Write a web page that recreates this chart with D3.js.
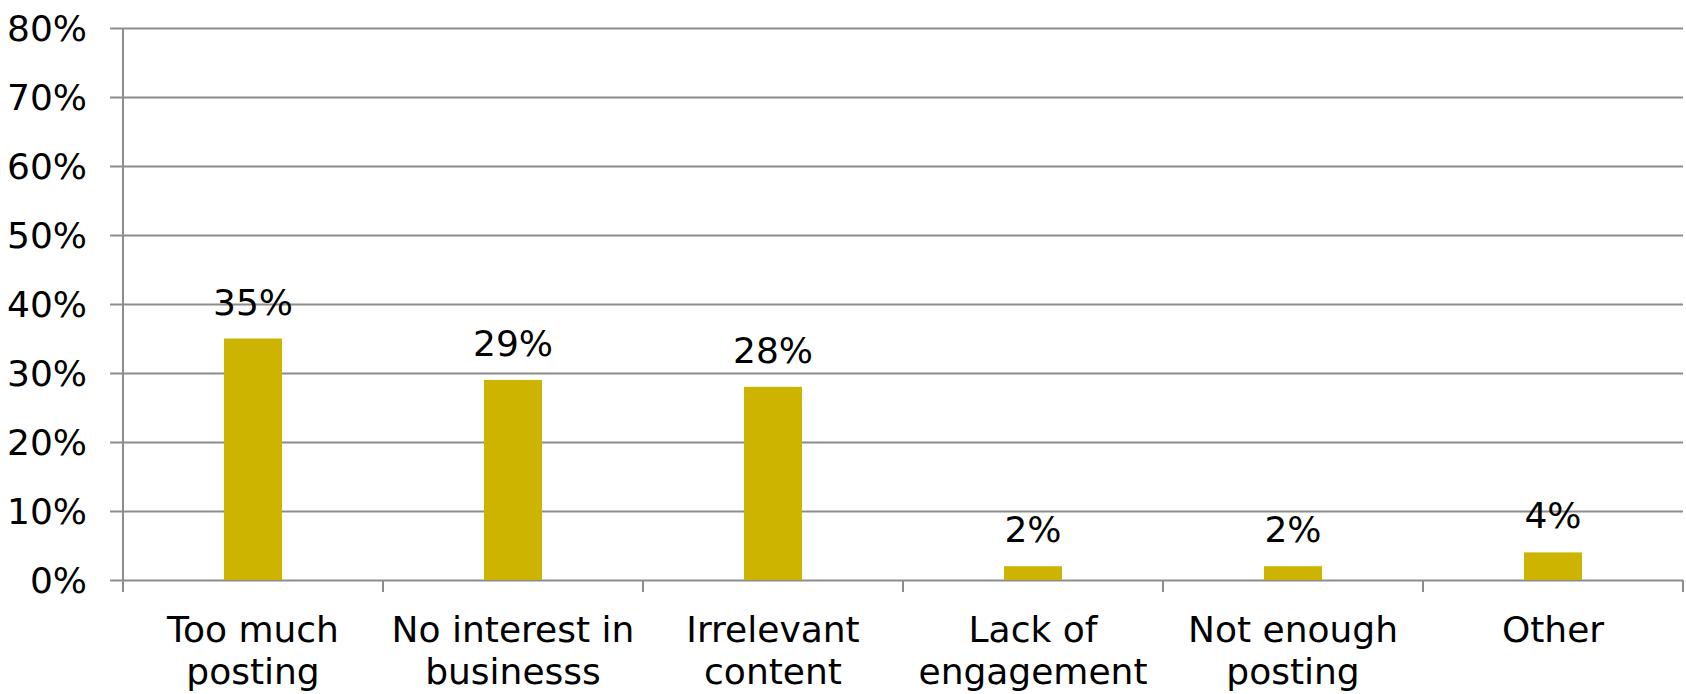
<!DOCTYPE html>
<html>
<head>
<meta charset="utf-8">
<script src="https://cdn.jsdelivr.net/npm/d3@7"></script>
<style>
  html, body { margin: 0; padding: 0; background: #fff; }
  svg text { font-family: "Century Gothic", "URW Gothic", "DejaVu Sans", sans-serif; fill: #000; }
</style>
</head>
<body>
<div id="chart"></div>
<script>
var categories = [
    ["Too much", "posting"],
    ["No interest in", "businesss"],
    ["Irrelevant", "content"],
    ["Lack of", "engagement"],
    ["Not enough", "posting"],
    ["Other"]
];
var values = [0.35, 0.29, 0.28, 0.02, 0.02, 0.04];
var yTicks = [0, 0.1, 0.2, 0.3, 0.4, 0.5, 0.6, 0.7, 0.8];

var width = 1686,
    height = 694,
    margin = { top: 28, right: 3, bottom: 114, left: 123 },
    gridColor = '#8c8c8c',
    barColor = '#ccb400',
    fontSize = 36
;

var svg = d3.select('#chart')
    .append('svg')
    .attr('width', width)
    .attr('height', height)
;

var keys = categories.map(function(d, i) { return i; });

var x = d3.scaleBand()
    .domain(keys)
    .range([margin.left, width - margin.right])
    .padding(0)
;

var y = d3.scaleLinear()
    .domain([0, 0.8])
    .range([height - margin.bottom, margin.top])
;

var barWidth = x.bandwidth() * 0.223;

// gridlines + y labels
var yAxis = d3.axisLeft(y)
    .tickValues(yTicks)
    .tickFormat(d3.format('.0%'))
    .tickSize(-(width - margin.right - margin.left))
    .tickPadding(36)
;

var gy = svg.append('g')
    .attr('transform', 'translate(' + margin.left + ',0)')
    .call(yAxis)
;
gy.select('.domain').remove();
gy.selectAll('.tick line')
    .attr('x1', -13)
    .attr('stroke', gridColor)
    .attr('stroke-width', 2)
;
gy.selectAll('.tick text')
    .style('font-size', fontSize + 'px')
    .attr('dy', '0.36em')
;

// y axis line
svg.append('line')
    .attr('x1', margin.left).attr('x2', margin.left)
    .attr('y1', margin.top).attr('y2', y(0) + 12)
    .attr('stroke', gridColor)
    .attr('stroke-width', 2)
;

// category ticks on x axis
var xTickPos = keys.map(function(k) { return x(k); }).concat([x(keys[keys.length - 1]) + x.bandwidth()]);
svg.selectAll('.xtick')
    .data(xTickPos)
    .enter()
    .append('line')
    .attr('class', 'xtick')
    .attr('x1', function(d) { return d; })
    .attr('x2', function(d) { return d; })
    .attr('y1', y(0))
    .attr('y2', y(0) + 12)
    .attr('stroke', gridColor)
    .attr('stroke-width', 2)
;

// bars
svg.selectAll('.bar')
    .data(values)
    .enter()
    .append('rect')
    .attr('class', 'bar')
    .attr('x', function(d, i) { return x(i) + (x.bandwidth() - barWidth) / 2; })
    .attr('y', function(d) { return y(d); })
    .attr('width', barWidth)
    .attr('height', function(d) { return y(0) - y(d); })
    .attr('fill', barColor)
;

// value labels
svg.selectAll('.vlabel')
    .data(values)
    .enter()
    .append('text')
    .attr('class', 'vlabel')
    .attr('x', function(d, i) { return x(i) + x.bandwidth() / 2; })
    .attr('y', function(d) { return y(d) - 24; })
    .attr('text-anchor', 'middle')
    .style('font-size', fontSize + 'px')
    .text(function(d) { return d3.format('.0%')(d); })
;

// category labels
var clabels = svg.selectAll('.clabel')
    .data(categories)
    .enter()
    .append('text')
    .attr('class', 'clabel')
    .attr('text-anchor', 'middle')
    .style('font-size', fontSize + 'px')
;
clabels.selectAll('tspan')
    .data(function(d, i) { return d.map(function(line) { return { line: line, i: i }; }); })
    .enter()
    .append('tspan')
    .attr('x', function(d) { return x(d.i) + x.bandwidth() / 2; })
    .attr('y', function(d, j) { return 642 + j * 42; })
    .text(function(d) { return d.line; })
;
</script>
</body>
</html>
